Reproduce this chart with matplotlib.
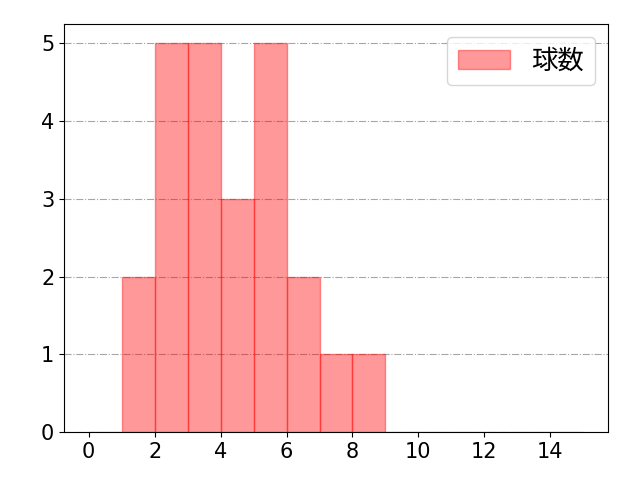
import matplotlib
matplotlib.use("Agg")
import matplotlib.pyplot as plt

# 球数の分布 (ビン幅 1)
bin_edges = list(range(0, 16))
counts = [0, 2, 5, 5, 3, 5, 2, 1, 1, 0, 0, 0, 0, 0, 0]
series_label = "球数"

plt.rcParams["font.family"] = ["DejaVu Sans", "Noto Sans CJK JP"]
plt.rcParams["font.size"] = 15

fig, ax = plt.subplots(figsize=(6.4, 4.8), dpi=100)
fig.subplots_adjust(left=0.1, right=0.95, top=0.95, bottom=0.1)
ax.hist(bin_edges[:-1], bins=bin_edges, weights=counts,
        color="red", alpha=0.4, edgecolor="red", label=series_label)
ax.grid(axis="y", linestyle="-.", color="gray", alpha=0.7)
ax.set_axisbelow(True)
ax.set_xticks(range(0, 16, 2))
ax.legend(loc="upper right", prop={"family": ["Noto Sans CJK JP"], "size": 19})
fig.savefig("out.png")
